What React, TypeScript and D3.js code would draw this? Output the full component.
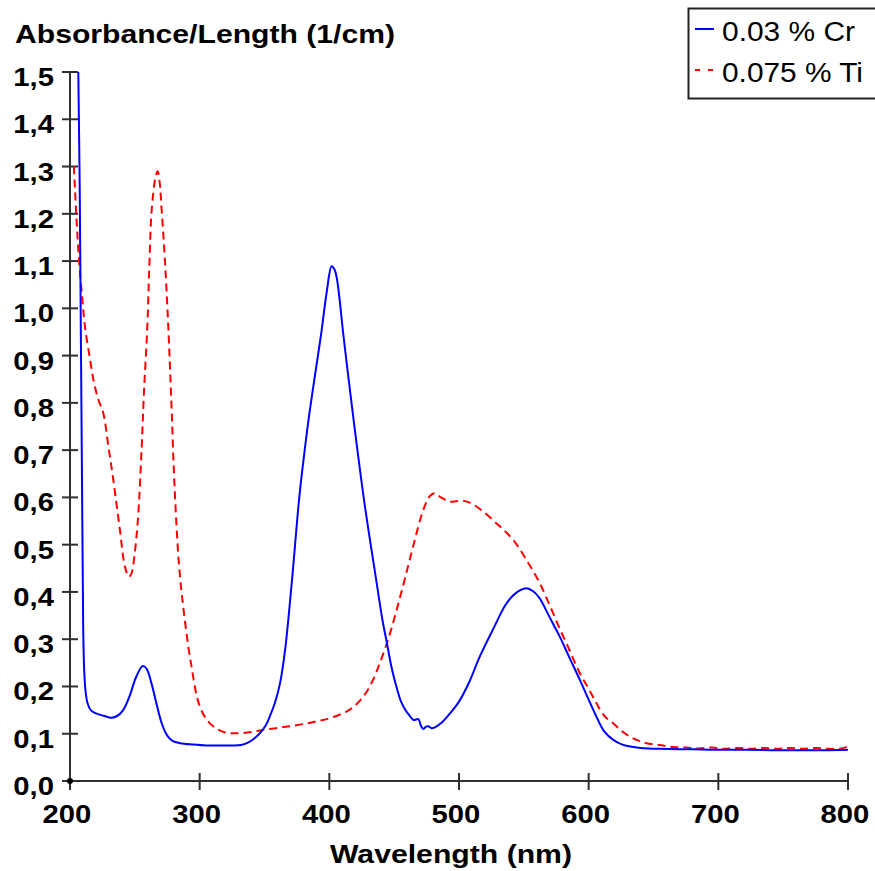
import React from "react";
import * as d3 from "d3";

const crWavelength = [206.4, 207.5, 208.5, 209.5, 210.2, 211, 212, 213.5, 216, 220, 226, 231, 236, 241, 246, 251, 256, 259, 263, 267, 271, 275, 279, 285, 295, 305, 315, 325, 332, 338, 343, 347, 351, 354, 358, 362, 366, 371, 377, 381, 384.5, 390, 394, 398, 401.8, 404, 406, 410.7, 414, 418.4, 427, 436.5, 441, 444.2, 448, 451, 455, 458.3, 462, 465, 468.6, 470.5, 472.4, 474.5, 476.3, 478.5, 481, 486, 493, 500, 508, 516, 527, 536.7, 545, 552, 557, 562.4, 567, 573, 577.8, 585, 593.2, 600, 606, 612, 619, 626, 632, 640, 655, 680, 700, 720, 750, 780, 800];
const crAbsorbance = [1.5, 1.25, 0.9, 0.55, 0.32, 0.23, 0.19, 0.165, 0.15, 0.143, 0.138, 0.134, 0.137, 0.15, 0.18, 0.22, 0.243, 0.238, 0.205, 0.16, 0.12, 0.096, 0.085, 0.08, 0.077, 0.075, 0.075, 0.075, 0.076, 0.082, 0.092, 0.103, 0.118, 0.136, 0.165, 0.207, 0.28, 0.419, 0.605, 0.70, 0.775, 0.878, 0.952, 1.035, 1.089, 1.082, 1.06, 0.947, 0.87, 0.771, 0.59, 0.419, 0.34, 0.295, 0.24, 0.207, 0.17, 0.152, 0.138, 0.129, 0.131, 0.118, 0.11, 0.115, 0.116, 0.112, 0.113, 0.122, 0.143, 0.168, 0.21, 0.263, 0.325, 0.376, 0.4, 0.408, 0.402, 0.386, 0.362, 0.33, 0.305, 0.262, 0.214, 0.172, 0.136, 0.105, 0.087, 0.077, 0.073, 0.07, 0.068, 0.067, 0.066, 0.066, 0.065, 0.065, 0.066];

const tiWavelength = [203, 205, 207, 209.5, 211.6, 215, 218, 221.5, 225.7, 229.5, 233.4, 238.5, 242.4, 245.5, 247.5, 249.3, 251, 252.7, 255.3, 257, 259.6, 261.2, 263, 266, 267.6, 269.2, 270.7, 273.2, 275.8, 278.4, 280.4, 284, 287.9, 293.3, 300.2, 307.9, 318.2, 328.5, 341.3, 349, 362, 374.8, 388, 400.5, 413.3, 420, 426.1, 433, 439, 446, 451.9, 458, 464.7, 472.4, 477.6, 481.4, 486, 493, 498, 503.2, 507, 511, 518.7, 529, 536, 541.8, 547, 552.1, 557, 562.4, 567, 572.6, 578, 582.9, 593.2, 600, 606.1, 612, 618.9, 625, 631.8, 638, 644.6, 654.9, 665, 675, 685, 695, 705, 715, 725, 735, 745, 755, 765, 775, 785, 795, 800];
const tiAbsorbance = [1.3, 1.19, 1.1, 1.02, 0.96, 0.9, 0.85, 0.81, 0.778, 0.71, 0.637, 0.531, 0.453, 0.432, 0.44, 0.4675, 0.51, 0.566, 0.707, 0.82, 0.96, 1.09, 1.208, 1.278, 1.29, 1.265, 1.208, 1.102, 0.961, 0.785, 0.637, 0.46, 0.355, 0.249, 0.157, 0.122, 0.104, 0.101, 0.104, 0.108, 0.113, 0.118, 0.125, 0.133, 0.147, 0.16, 0.178, 0.21, 0.25, 0.305, 0.362, 0.425, 0.497, 0.573, 0.603, 0.609, 0.6, 0.591, 0.592, 0.593, 0.59, 0.585, 0.57, 0.545, 0.527, 0.51, 0.49, 0.467, 0.445, 0.418, 0.39, 0.355, 0.32, 0.291, 0.228, 0.195, 0.164, 0.138, 0.122, 0.107, 0.094, 0.086, 0.08, 0.076, 0.072, 0.071, 0.069, 0.071, 0.068, 0.07, 0.068, 0.07, 0.068, 0.07, 0.068, 0.07, 0.068, 0.069, 0.073];

const xTicks = [200, 300, 400, 500, 600, 700, 800];
const yTicks = [0, 0.1, 0.2, 0.3, 0.4, 0.5, 0.6, 0.7, 0.8, 0.9, 1.0, 1.1, 1.2, 1.3, 1.4, 1.5];
const seriesNames = ["0.03 % Cr", "0.075 % Ti"];
const yTitle = "Absorbance/Length (1/cm)";
const xTitle = "Wavelength (nm)";

const W = 875;
const H = 871;
const FONT = "'Liberation Sans', Arial, Helvetica, sans-serif";
const AXIS = "#303030";

export default function App() {
  const x = d3.scaleLinear().domain([200, 800]).range([70, 848]);
  const y = d3.scaleLinear().domain([0, 1.5]).range([781, 72]);

  const line = d3
    .line<[number, number]>()
    .x((d) => x(d[0]))
    .y((d) => y(d[1]))
    .curve(d3.curveCatmullRom.alpha(0.5));

  const crData: [number, number][] = crWavelength.map((w, i) => [w, crAbsorbance[i]]);
  const tiData: [number, number][] = tiWavelength.map((w, i) => [w, tiAbsorbance[i]]);

  const fmtY = (v: number) => v.toFixed(1).replace(".", ",");

  return (
    <svg
      width={W}
      height={H}
      style={{ position: "absolute", left: 0, top: 0, background: "#fff" }}
      fontFamily={FONT}
    >
      <rect x={0} y={0} width={W} height={H} fill="#fff" />
      <defs>
        <clipPath id="plot">
          <rect x={70} y={y(1.5)} width={780} height={y(0) - y(1.5) + 2} />
        </clipPath>
      </defs>

      {/* y title */}
      <text x={15} y={43} fontSize={25} fontWeight="bold" textLength={380} lengthAdjust="spacingAndGlyphs" fill="#000">
        {yTitle}
      </text>

      {/* y axis */}
      <line x1={x(200)} x2={x(200)} y1={y(1.5)} y2={y(0)} stroke={AXIS} strokeWidth={2} />
      {yTicks.map((t) => (
        <g key={"y" + t}>
          <line x1={62} x2={78} y1={y(t)} y2={y(t)} stroke={AXIS} strokeWidth={2} />
          <text
            transform={`translate(54, ${y(t) + 14}) scale(1.17, 1)`}
            textAnchor="end"
            fontSize={25}
            fontWeight="bold"
            fill="#000"
          >
            {fmtY(t)}
          </text>
        </g>
      ))}

      {/* x axis */}
      <line x1={x(200)} x2={x(800)} y1={y(0)} y2={y(0)} stroke={AXIS} strokeWidth={2} />
      {xTicks.map((t) => (
        <g key={"x" + t}>
          <line x1={x(t)} x2={x(t)} y1={773} y2={790} stroke={AXIS} strokeWidth={2} />
          <text
            transform={`translate(${x(t) - 3}, 823) scale(1.17, 1)`}
            textAnchor="middle"
            fontSize={25}
            fontWeight="bold"
            fill="#000"
          >
            {t}
          </text>
        </g>
      ))}
      <circle cx={x(200)} cy={y(0)} r={3} fill="#000" />
      <text x={451} y={863} textAnchor="middle" fontSize={25} fontWeight="bold" textLength={242} lengthAdjust="spacingAndGlyphs" fill="#000">
        {xTitle}
      </text>

      {/* curves */}
      <g clipPath="url(#plot)">
        <path d={line(tiData) || ""} fill="none" stroke="#ff0000" strokeWidth={2} strokeDasharray="8,5" />
        <path d={line(crData) || ""} fill="none" stroke="#0000ff" strokeWidth={2} />
      </g>

      {/* legend */}
      <rect x={688.5} y={8.5} width={200} height={90} fill="#fff" stroke="#222" strokeWidth={2} />
      <line x1={695} x2={714} y1={29} y2={29} stroke="#0000ff" strokeWidth={2} />
      <text x={722} y={40.5} fontSize={27} textLength={133} lengthAdjust="spacingAndGlyphs" fill="#000">
        {seriesNames[0]}
      </text>
      <line x1={695} x2={714} y1={70} y2={70} stroke="#ff0000" strokeWidth={2} strokeDasharray="5,8" />
      <text x={722} y={81.5} fontSize={27} textLength={141} lengthAdjust="spacingAndGlyphs" fill="#000">
        {seriesNames[1]}
      </text>
    </svg>
  );
}
